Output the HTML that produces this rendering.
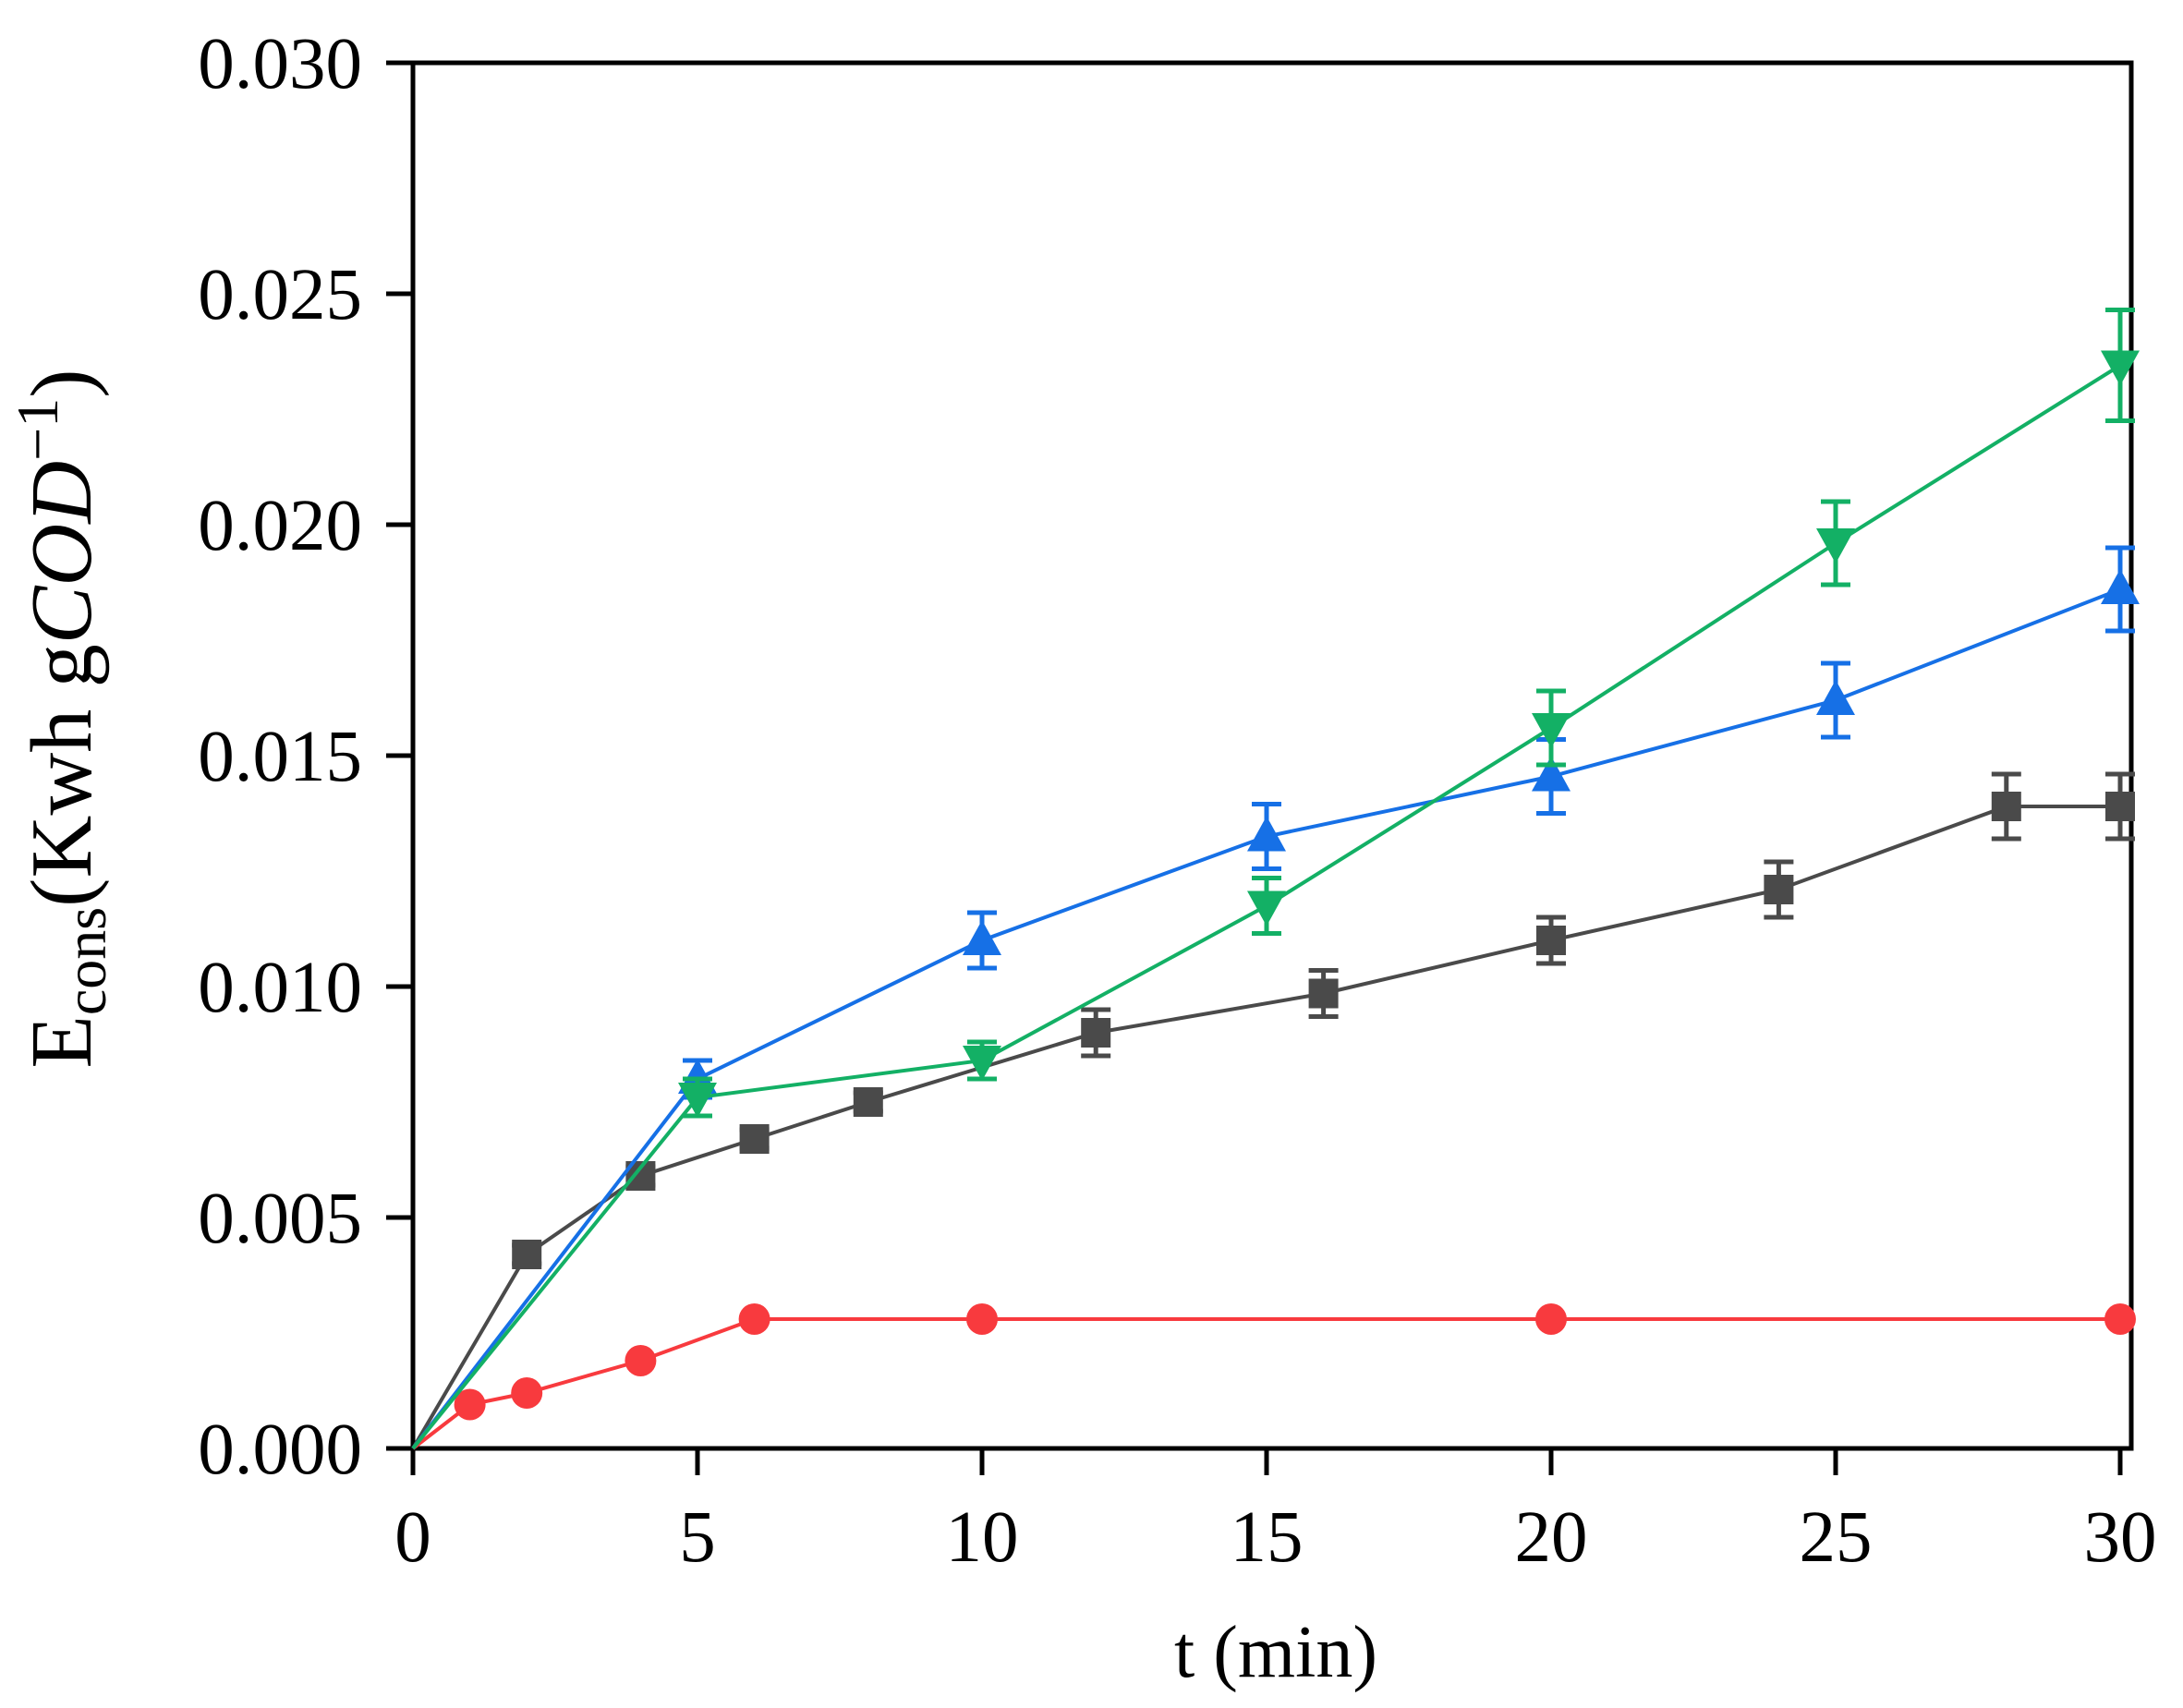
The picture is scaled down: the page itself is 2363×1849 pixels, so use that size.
<!DOCTYPE html>
<html><head><meta charset="utf-8"><style>
html,body{margin:0;padding:0;background:#fff}
svg{display:block}
text{font-family:"Liberation Serif",serif;fill:#000}
</style></head><body>
<svg id="chart" width="2363" height="1849" viewBox="0 0 2363 1849" xmlns="http://www.w3.org/2000/svg">
<g id="axes"></g>
<g id="series"></g>
<text x="1381" y="1815" font-size="80" text-anchor="middle">t (min)</text>
<text transform="translate(98,778) rotate(-90)" font-size="94" text-anchor="middle">E<tspan font-size="64" dy="16">cons</tspan><tspan dy="-16">(Kwh g</tspan><tspan font-style="italic">COD</tspan><tspan font-size="64" dy="-36">−1</tspan><tspan dy="36">)</tspan></text>
</svg>
<script>
const xTicks=[0,5,10,15,20,25,30];
const yTicks=[0,0.005,0.010,0.015,0.020,0.025,0.030];
const yTickLabels=["0.000","0.005","0.010","0.015","0.020","0.025","0.030"];
const grayX=[0,2,4,6,8,12,16,20,24,28,30];
const grayY=[0,0.0042,0.0059,0.0067,0.0075,0.0090,0.00985,0.0110,0.0121,0.0139,0.0139];
const grayErr=[0,0.0002,0.0002,0.0002,0.0002,0.0005,0.0005,0.0005,0.0006,0.0007,0.0007];
const redX=[0,1,2,4,6,10,20,30];
const redY=[0,0.00095,0.0012,0.0019,0.0028,0.0028,0.0028,0.0028];
const blueX=[0,5,10,15,20,25,30];
const blueY=[0,0.0080,0.0110,0.01325,0.01455,0.0162,0.0186];
const blueErr=[0,0.0004,0.0006,0.0007,0.0008,0.0008,0.0009];
const greenX=[0,5,10,15,20,25,30];
const greenY=[0,0.0076,0.0084,0.01175,0.0156,0.0196,0.02345];
const greenErr=[0,0.0004,0.0004,0.0006,0.0008,0.0009,0.0012];

const X0=447,X1=2295,Y0=1568,Y1=68;
const sx=v=>X0+(v-0)/30*(X1-X0);
const sy=v=>Y0-(v-0)/0.030*(Y0-Y1);
const NS="http://www.w3.org/2000/svg";
function mk(tag,attrs,parent){const e=document.createElementNS(NS,tag);for(const k in attrs)e.setAttribute(k,attrs[k]);parent.appendChild(e);return e;}
const axes=document.getElementById('axes');
const ser=document.getElementById('series');

const frame=mk('rect',{x:X0,y:Y1,width:2307-X0,height:Y0-Y1,fill:'none',stroke:'#000','stroke-width':5},axes);


xTicks.forEach(t=>{
  const l=mk('line',{x1:sx(t),x2:sx(t),y1:Y0,y2:Y0+29,stroke:'#000','stroke-width':5},axes);
  
  
  const tx=mk('text',{x:sx(t),y:1690,'font-size':79,'text-anchor':'middle'},axes);
  tx.textContent=t;
  
  
});
yTicks.forEach((t,i)=>{
  const l=mk('line',{x1:X0-29,x2:X0,y1:sy(t),y2:sy(t),stroke:'#000','stroke-width':5},axes);
  
  
  const tx=mk('text',{x:392,y:sy(t)+27,'font-size':79,'text-anchor':'end'},axes);
  tx.textContent=yTickLabels[i];
  
  
});

function drawSeries(name,xs,ys,errs,color,marker){
  const g=mk('g',{},ser);
  
  
  const pts=xs.map((x,i)=>sx(x)+','+sy(ys[i])).join(' ');
  const pl=mk('polyline',{points:pts,fill:'none',stroke:color,'stroke-width':4},g);
  
  
  xs.forEach((x,i)=>{
    const cx=sx(x),cy=sy(ys[i]);
    if(errs&&errs[i]>0){
      const e=errs[i],ya=sy(ys[i]+e),yb=sy(ys[i]-e);
      const eb=mk('path',{d:`M${cx},${ya}V${yb}M${cx-16},${ya}H${cx+16}M${cx-16},${yb}H${cx+16}`,stroke:color,'stroke-width':5,fill:'none'},g);
      
      
    }
    if(i===0) return;
    let m;
    if(marker==='square') m=mk('rect',{x:cx-16,y:cy-16,width:32,height:32,fill:color},g);
    else if(marker==='circle') m=mk('circle',{cx:cx,cy:cy,r:17,fill:color},g);
    else if(marker==='up') m=mk('path',{d:`M${cx},${cy-22}L${cx+21},${cy+16}L${cx-21},${cy+16}Z`,fill:color},g);
    else m=mk('path',{d:`M${cx},${cy+22}L${cx+21},${cy-16}L${cx-21},${cy-16}Z`,fill:color},g);
    
    
  });
}
drawSeries('gray',grayX,grayY,grayErr,'#4a4a4a','square');
drawSeries('red',redX,redY,null,'#f83a3e','circle');
drawSeries('blue',blueX,blueY,blueErr,'#1670e6','up');
drawSeries('green',greenX,greenY,greenErr,'#13b065','down');
</script>
</body></html>
